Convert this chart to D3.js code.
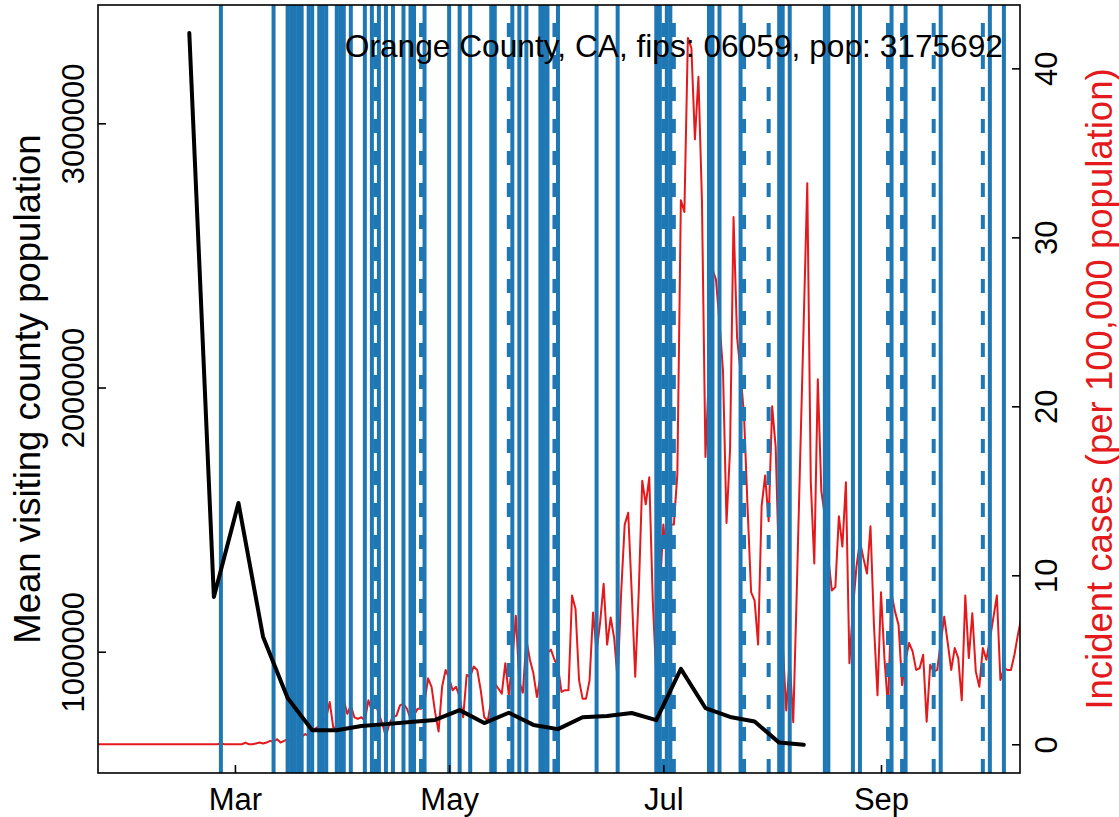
<!DOCTYPE html>
<html><head><meta charset="utf-8">
<script src="https://cdn.jsdelivr.net/npm/d3@7"></script>
<style>body{margin:0;background:#fff}svg{display:block}</style>
</head><body>
<svg id="c" width="1119" height="817"></svg>
<script>
// ---------------- data ----------------
const titleText = "Orange County, CA, fips: 06059, pop: 3175692";
const leftAxisTitle = "Mean visiting county population";
const rightAxisTitle = "Incident cases (per 100,000 population)";

const caseStartDate = "2020-01-22"; // first day of the daily incident series
const caseValues = [
0,0,0,0,0,0,0,0,0,0, 0,0,0,0,0,0,0,0,0,0, 0,0,0,0,0,0,0,0,0,0, 0,0,0,0,
0,0.05,0,0,0,0,0,0,0.1,0, 0,0.05,0.1,0.05,0.1,0.2,0.15,0.3,0.1,0.2,
0.3,0.25,0.5,0.3,0.45,0.6,0.5,0.8,0.95,1.1, 1.3,1.6,2.5,1.0,1.0,1.1,2.6,1.8,2.3,1.6,
1.5,1.6,1.4,2.6,2.0,2.4,1.8,1.2,0.45,1.24, 1.6,1.7,2.3,2.4,2.1,1.5,1.7,2.1,2.1,2.5,
3.9,3.4,1.9,0.75,3.4,4.4,3.9,3.2,3.4,2.8, 1.6,4.1,4.0,4.6,4.4,3.2,1.6,1.4,2.6,3.6,
3.3,3.0,4.8,2.9,5.0,7.6,3.7,3.05,6.2,5.0, 4.2,2.8,4.0,5.0,5.4,5.6,5.0,4.6,3.1,3.2,
3.2,8.8,8.0,3.8,2.7,2.7,3.8,7.8,5.5,7.2, 9.5,5.9,7.5,6.3,3.8,9.0,13.0,13.7,9.0,4.0,
9.0,15.6,14.2,15.8,8.5,4.0,9.0,13.0,11.0,13.0, 13.0,16.0,32.2,31.5,41.8,41.2,35.8,39.5,32.2,17.0,
22.0,28.1,27.5,25.0,22.1,13.1,17.4,31.2,24.1,22.0, 19.4,14.0,9.0,8.5,5.9,14.1,15.9,13.2,20.0,17.6,
10.0,6.0,2.0,5.0,1.3,9.0,17.1,25.1,33.2,15.5, 10.7,21.6,15.0,13.5,11.0,9.1,9.3,13.5,11.7,15.5,
4.8,8.0,10.5,12.0,11.0,10.1,12.9,7.0,2.9,9.0, 5.0,2.2,8.9,7.85,7.06,3.5,5.0,6.0,5.5,4.4,
4.5,5.3,1.34,4.7,4.3,4.4,6.0,7.55,6.0,4.4, 5.7,5.1,2.6,8.8,5.1,7.75,4.3,3.4,5.7,5.0,
6.2,7.5,8.8,3.8,4.5,4.4,4.4,5.3,6.5,7.5
];

const visitDates = ["2020-02-17","2020-02-24","2020-03-02","2020-03-09","2020-03-16","2020-03-23",
  "2020-03-30","2020-04-06","2020-04-13","2020-04-20","2020-04-27","2020-05-04","2020-05-11",
  "2020-05-18","2020-05-25","2020-06-01","2020-06-08","2020-06-15","2020-06-22","2020-06-29",
  "2020-07-06","2020-07-13","2020-07-20","2020-07-27","2020-08-03","2020-08-10"];
const visitValues = [3342000,1207000,1563000,1057000,825000,703000,703000,719000,726000,734000,
  742000,779000,730000,769000,723000,707000,752000,757000,768000,741000,935000,787000,753000,
  736000,656000,648000];

const solidEventDates = ["2020-02-26","2020-03-12","2020-03-16","2020-03-17","2020-03-18","2020-03-19",
  "2020-03-20","2020-03-22","2020-03-23","2020-03-25","2020-03-26","2020-03-27","2020-03-30",
  "2020-03-31","2020-04-01","2020-04-03","2020-04-07","2020-04-09","2020-04-11","2020-04-13",
  "2020-04-15","2020-04-18","2020-04-20","2020-04-21","2020-04-24","2020-05-01","2020-05-04",
  "2020-05-07","2020-05-13","2020-05-14","2020-05-19","2020-05-21","2020-05-23","2020-05-27",
  "2020-05-28","2020-05-29","2020-06-01","2020-06-12","2020-06-18","2020-06-29","2020-06-30",
  "2020-07-02","2020-07-03","2020-07-14","2020-07-15","2020-07-17","2020-07-23","2020-08-03",
  "2020-08-04","2020-08-06","2020-08-16","2020-08-17","2020-08-24","2020-08-26","2020-09-04",
  "2020-09-08","2020-09-18","2020-10-02","2020-10-06"];
const dashedEventDates = ["2020-04-10","2020-04-23","2020-05-18","2020-05-31","2020-07-01","2020-07-04",
  "2020-07-24","2020-07-31","2020-09-03","2020-09-07","2020-09-16","2020-09-30"];

const xTickDates = ["2020-03-01","2020-05-01","2020-07-01","2020-09-01"];
const xTickLabels = ["Mar","May","Jul","Sep"];
const leftTicks = [1000000, 2000000, 3000000];
const rightTicks = [0, 10, 20, 30, 40];

// ---------------- drawing ----------------
const parse = d3.utcParse("%Y-%m-%d");
const W = 1119, H = 817;
const L = 98, R = 1020, T = 5, B = 773;
const FONT = "'Liberation Sans', Arial, Helvetica, sans-serif";
const FS = 31;
const FS_LAB = 36.5;

const x = d3.scaleUtc()
  .domain([parse("2020-01-22"), d3.utcHour.offset(parse("2020-01-22"), Math.round(262.6*24))])
  .range([L, R]);
const yL = d3.scaleLinear().domain([541000, 3447800]).range([B, T]);
const yR = d3.scaleLinear().domain([-1.7, 43.75]).range([B, T]);

const svg = d3.select("#c");
svg.append("rect").attr("width", W).attr("height", H).attr("fill", "#fff");
svg.append("defs").append("clipPath").attr("id", "clip")
  .append("rect").attr("x", L).attr("y", T).attr("width", R - L).attr("height", B - T);

const plot = svg.append("g").attr("clip-path", "url(#clip)");

// red incident cases
const caseStart = parse(caseStartDate);
const caseData = caseValues.map((v, i) => ({ d: d3.utcDay.offset(caseStart, i), v }));
plot.append("path").datum(caseData)
  .attr("fill", "none").attr("stroke", "#e3191c").attr("stroke-width", 2)
  .attr("stroke-linejoin", "round")
  .attr("d", d3.line().x(p => x(p.d)).y(p => yR(p.v)));

// event lines
const blue = "#1f77b4";
plot.selectAll("line.solid").data(solidEventDates).join("line")
  .attr("class", "solid")
  .attr("x1", d => x(parse(d))).attr("x2", d => x(parse(d)))
  .attr("y1", B).attr("y2", T)
  .attr("stroke", blue).attr("stroke-width", 4);
plot.selectAll("line.dash").data(dashedEventDates).join("line")
  .attr("class", "dash")
  .attr("x1", d => x(parse(d))).attr("x2", d => x(parse(d)))
  .attr("y1", B).attr("y2", T)
  .attr("stroke", blue).attr("stroke-width", 4)
  .attr("stroke-dasharray", "14,18");

// black mean visiting population
const visitData = visitDates.map((d, i) => ({ d: parse(d), v: visitValues[i] }));
plot.append("path").datum(visitData)
  .attr("fill", "none").attr("stroke", "#000").attr("stroke-width", 4)
  .attr("stroke-linejoin", "round").attr("stroke-linecap", "round")
  .attr("d", d3.line().x(p => x(p.d)).y(p => yL(p.v)));

// box
svg.append("rect").attr("x", L).attr("y", T).attr("width", R - L).attr("height", B - T)
  .attr("fill", "none").attr("stroke", "#000").attr("stroke-width", 1.6);

// axes (ticks inward)
const TK = 8;
const xAxis = svg.append("g").attr("transform", `translate(0,${B})`)
  .call(d3.axisBottom(x).tickValues(xTickDates.map(parse)).tickSize(-TK)
    .tickFormat((d, i) => xTickLabels[i]).tickPadding(TK + 12));
const yAxisL = svg.append("g").attr("transform", `translate(${L},0)`)
  .call(d3.axisLeft(yL).tickValues(leftTicks).tickSize(-TK).tickFormat(d3.format("d")));
const yAxisR = svg.append("g").attr("transform", `translate(${R},0)`)
  .call(d3.axisRight(yR).tickValues(rightTicks).tickSize(-TK).tickFormat(d3.format("d")));

[xAxis, yAxisL, yAxisR].forEach(g => {
  g.select(".domain").remove();
  g.selectAll(".tick line").attr("stroke", "#000").attr("stroke-width", 1.6);
  g.selectAll("text").attr("font-family", FONT).attr("font-size", FS).attr("fill", "#000");
});
xAxis.selectAll("text").attr("dy", null).attr("y", 37);
// tick labels parallel to the axis
yAxisL.selectAll(".tick text")
  .attr("x", null).attr("dy", null)
  .attr("transform", "translate(-14,0) rotate(-90)")
  .attr("text-anchor", "middle").attr("y", 0);
yAxisR.selectAll(".tick text")
  .attr("x", null).attr("dy", null)
  .attr("transform", "translate(37,0) rotate(-90)")
  .attr("text-anchor", "middle").attr("y", 0);

// axis titles
svg.append("text").attr("transform", `translate(40,${(T + B) / 2}) rotate(-90)`)
  .attr("text-anchor", "middle").attr("font-family", FONT).attr("font-size", FS_LAB)
  .attr("fill", "#000").text(leftAxisTitle);
svg.append("text").attr("transform", `translate(1112,${(T + B) / 2}) rotate(-90)`)
  .attr("text-anchor", "middle").attr("font-family", FONT).attr("font-size", FS_LAB)
  .attr("fill", "#e3191c").text(rightAxisTitle);

// title inside plot, top right
svg.append("text").attr("x", 1003).attr("y", 57).attr("text-anchor", "end")
  .attr("font-family", FONT).attr("font-size", 31.7).attr("fill", "#000").text(titleText);
</script>
</body></html>
